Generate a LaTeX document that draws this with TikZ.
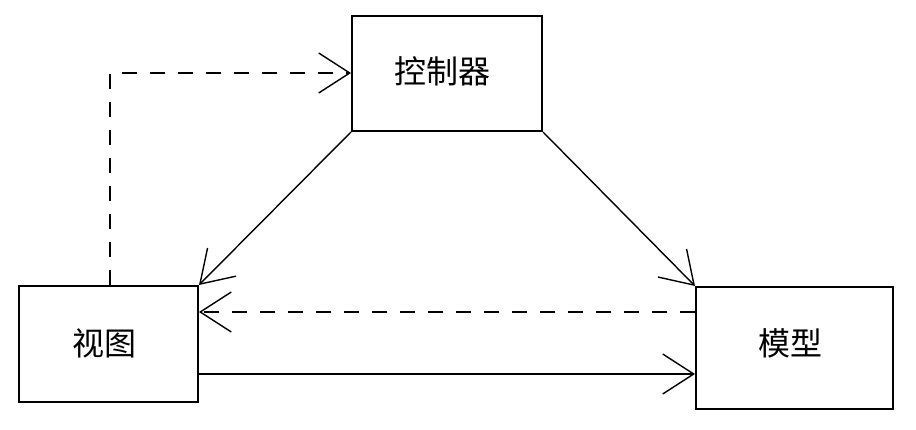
\documentclass[tikz,border=0pt]{standalone}
\usepackage{fontspec}
\newfontfamily\cjk{Noto Sans CJK SC}
\usetikzlibrary{arrows.meta}
\begin{document}
\begin{tikzpicture}[x=1pt,y=-1pt,
  box/.style={draw=black,line width=2pt,fill=white,inner sep=0pt,font=\cjk\fontsize{32}{38}\selectfont},
  conn/.style={line width=1.4pt,-{Straight Barb[length=31pt,width=40pt,line width=1.4pt]}},
  dash line/.style={dash pattern=on 15pt off 13pt}]
\useasboundingbox (0,0) rectangle (916,430);
\fill[white] (0,0) rectangle (916,430);
\node[box,minimum width=190pt,minimum height=115pt] (ctrl) at (447,73.5) {};
\node[box,minimum width=179pt,minimum height=116pt] (view) at (108.5,344) {};
\node[box,minimum width=197pt,minimum height=122pt] (model) at (794.5,348) {};
\node[font=\cjk\fontsize{32}{38}\selectfont] (tctrl) at (442,71) {控制器};
\node[font=\cjk\fontsize{32}{38}\selectfont] (tview) at (104,343) {视图};
\node[font=\cjk\fontsize{32}{38}\selectfont] (tmodel) at (790,343) {模型};
\coordinate (bend) at (110,73);
\draw[conn] (ctrl.south west) -- (view.north east);
\draw[conn] (ctrl.south east) -- (model.north west);
\draw[conn,dash line] (model.west |- 0,312) -- (view.east |- 0,312);
\draw[conn] (view.east |- 0,374) -- (model.west |- 0,374);
\draw[conn,dash line] (view.north -| bend) -- (bend) -- (ctrl.west |- bend);
\end{tikzpicture}
\end{document}
